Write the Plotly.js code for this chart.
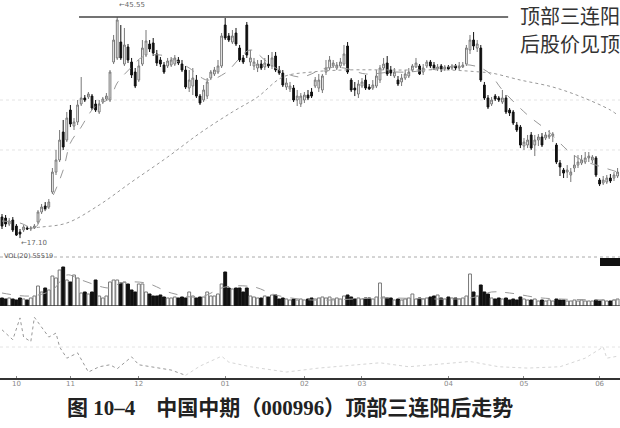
<!DOCTYPE html>
<html><head><meta charset="utf-8">
<script src="https://cdn.plot.ly/plotly-3.0.1.min.js"></script>
<style>html,body{margin:0;padding:0;background:#fff}#c{width:620px;height:428px}</style>
</head><body><div id="c"></div>
<script>
// ---- price data (yuan) ----
const openP=[19.81,19.68,18.91,19.43,18.65,17.88,18.14,18.40,18.27,18.40,
19.17,20.46,21.23,21.10,23.03,25.60,27.15,30.75,29.72,33.58,
31.52,32.04,34.36,35.13,35.26,35.38,34.36,33.33,34.61,35.00,
34.87,39.76,40.28,42.33,39.50,41.69,39.76,38.47,37.44,39.50,
40.66,42.08,42.21,40.79,40.02,39.37,39.25,39.37,39.50,40.02,
39.50,38.73,36.41,36.67,37.44,35.38,34.87,35.38,37.70,38.22,
38.47,39.25,44.52,43.11,42.33,43.49,41.56,40.28,44.52,39.76,
39.25,38.99,39.50,39.12,39.50,39.25,40.53,38.73,38.34,36.54,
36.29,36.41,34.87,34.36,34.87,35.51,35.90,36.67,36.41,36.16,
38.47,38.99,39.25,38.99,39.25,39.50,41.82,37.44,36.41,35.64,
36.67,37.44,36.54,36.41,36.67,37.44,38.99,39.63,38.73,37.96,
37.44,37.19,37.70,37.96,38.73,39.12,39.25,38.47,39.25,39.76,
39.37,38.86,39.25,38.86,39.12,38.99,39.25,38.99,39.12,39.50,
41.31,42.59,41.56,41.56,36.80,35.13,34.36,35.38,35.13,34.61,
35.13,33.58,33.33,31.65,31.39,28.95,29.08,30.37,29.08,29.72,
30.11,29.98,30.11,30.24,29.08,26.76,25.86,25.60,25.22,26.12,
26.50,26.76,26.89,27.41,27.15,27.41,24.57,24.19,24.32,24.83,
24.83,25.09];
const highP=[20.20,20.07,19.68,19.81,18.91,18.27,18.78,18.65,18.65,18.91,
20.71,21.49,21.74,22.13,26.12,28.44,31.01,32.30,33.33,34.23,
32.55,34.87,37.83,35.51,35.90,35.64,34.87,34.87,35.26,35.77,
38.73,43.24,45.55,44.52,44.14,42.08,40.28,38.99,40.02,42.59,
43.88,42.59,42.85,41.31,40.40,39.76,40.28,40.40,40.66,40.40,
40.02,39.25,38.73,38.99,38.09,35.64,36.80,37.70,38.73,39.12,
40.02,43.49,45.42,43.49,43.88,44.14,41.95,40.66,44.91,41.31,
40.28,40.02,40.02,40.28,40.66,41.05,41.05,39.25,38.73,37.70,
37.19,36.80,36.16,35.77,35.90,36.16,36.41,37.83,38.22,38.22,
40.02,40.53,40.02,39.76,40.28,41.95,42.33,37.70,37.19,37.44,
37.70,38.09,36.93,37.44,38.73,39.37,40.28,40.53,39.25,38.99,
37.96,38.22,38.73,38.99,39.50,40.28,39.50,39.50,40.02,40.02,
39.76,39.50,39.50,39.37,39.37,39.50,39.50,39.76,39.76,41.95,
43.24,43.62,42.59,41.95,37.19,35.51,35.26,35.64,35.38,36.16,
35.51,33.84,33.58,32.04,31.65,29.98,30.37,30.75,30.37,30.49,
30.62,30.75,31.01,30.75,29.34,27.15,26.12,26.50,26.12,27.79,
27.79,27.79,28.18,28.18,27.79,27.66,24.83,25.09,25.22,25.35,
25.60,26.12];
const lowP=[18.27,18.53,18.65,17.88,17.37,17.10,17.88,18.14,18.01,18.27,
18.91,20.20,20.58,20.84,22.77,25.22,26.89,28.44,29.46,31.39,
31.01,31.65,34.10,34.61,35.00,33.58,33.33,33.07,34.36,34.74,
34.61,39.50,40.02,40.02,39.25,39.63,37.70,36.41,37.19,39.25,
40.40,41.05,40.53,39.25,39.12,38.22,38.99,39.12,39.25,39.37,
38.47,36.29,35.90,35.51,35.13,34.23,34.61,35.00,37.44,37.96,
38.22,38.99,42.59,42.33,42.08,41.82,39.76,39.50,40.28,39.25,
38.73,38.47,38.73,38.73,38.99,38.86,38.47,38.09,36.54,36.16,
35.90,34.61,34.10,33.97,34.48,34.87,35.13,36.41,35.90,35.77,
38.09,38.73,38.99,38.73,38.99,39.25,38.22,35.90,35.38,35.13,
36.41,36.16,36.16,36.16,36.41,37.06,38.73,37.96,37.96,37.70,
36.67,36.67,37.44,37.70,38.47,38.99,38.09,38.09,38.99,38.99,
38.73,38.60,38.47,38.60,38.73,38.73,38.73,38.73,38.99,39.25,
40.79,41.31,41.05,37.19,34.87,33.71,34.10,34.74,34.61,34.36,
33.07,32.81,31.65,30.75,28.69,28.44,28.69,28.44,27.66,28.95,
28.82,29.72,29.85,29.46,26.63,25.09,24.83,24.83,24.32,25.60,
26.12,26.50,26.63,26.89,26.76,24.96,23.80,23.93,24.06,24.19,
24.45,24.83];
const closeP=[18.65,18.91,19.30,18.14,17.49,17.62,18.53,18.27,18.40,18.65,
20.46,21.10,20.84,21.74,25.60,27.15,29.72,28.82,32.55,31.78,
32.04,34.23,35.13,34.87,35.64,33.84,33.58,34.36,35.00,35.38,
38.47,42.59,45.17,40.28,41.95,40.02,38.09,36.67,39.25,41.56,
42.46,41.43,40.92,39.63,39.50,38.47,39.89,40.02,40.28,39.63,
38.73,36.54,37.44,37.70,35.38,34.48,36.16,37.19,38.47,38.73,
39.25,43.11,42.85,42.59,43.11,42.08,40.02,39.76,40.66,40.28,
39.76,39.50,38.99,39.63,39.25,40.28,38.73,38.34,36.80,37.06,
36.67,34.87,35.38,35.38,35.51,35.13,35.38,37.44,37.44,37.96,
38.99,40.02,39.63,39.37,39.76,40.79,38.47,36.16,36.16,36.93,
37.19,36.41,36.29,36.80,37.96,38.99,39.50,38.22,38.34,38.47,
36.93,37.70,38.22,38.47,39.25,39.63,38.22,38.99,39.76,39.25,
38.99,39.12,38.86,39.12,38.86,39.25,38.99,39.25,39.37,41.56,
42.59,41.82,42.08,37.44,35.13,33.97,34.87,35.00,34.87,35.13,
33.33,33.20,31.91,31.01,29.08,29.46,29.72,28.69,29.72,30.11,
29.08,30.37,30.37,30.49,26.89,26.25,25.47,25.86,25.60,26.50,
26.89,27.15,27.41,27.66,27.53,25.22,24.06,24.57,24.83,24.45,
25.22,25.60];
// ---- volume (thousand lots) ----
const volume=[24,21,24,21,18,24,21,18,24,30,
60,42,54,48,90,84,108,117,78,72,
93,84,39,42,36,42,78,30,24,30,
72,78,78,69,72,66,48,42,66,66,
42,36,30,30,33,27,24,24,27,24,
27,24,42,30,24,27,27,42,30,30,
36,66,102,54,51,54,54,42,54,30,
27,24,24,30,27,33,33,21,24,21,
18,21,18,21,18,21,24,21,24,27,
24,27,21,24,21,30,33,27,21,24,
21,24,24,21,27,69,27,24,24,18,
21,18,21,24,36,21,24,21,24,27,
30,33,24,21,27,24,24,21,24,30,
96,42,30,63,42,36,24,21,24,21,
24,18,21,18,27,21,18,18,21,15,
18,15,18,15,21,18,18,15,15,18,
15,18,15,15,15,18,15,18,15,15,
18,21];
// ---- moving averages ----
const maShortIdx=[0,5,9,11,14,17,19,22,24,26,30,32,36,39,44,48,52,57,62,69,73,77,83,90,95,101,108,113,122,130,135,139,146,152,157,161,165,171];
const maShortVal=[19.30,19.04,18.40,19.81,22.39,25.86,29.34,31.39,32.94,34.10,35.13,37.06,39.12,40.40,40.66,40.02,38.99,37.44,38.34,41.31,40.02,38.73,37.83,38.99,38.99,38.22,38.47,38.47,38.99,39.37,38.47,36.16,32.94,30.75,28.44,27.15,26.50,25.60];
const maLongIdx=[8,11,18,27,36,46,55,64,71,78,86,95,111,124,133,136,144,153,161,169,171];
const maLongVal=[18.40,18.53,19.04,21.36,24.32,27.53,30.62,33.33,35.26,37.83,38.47,38.73,38.73,38.73,38.47,38.34,37.44,36.54,35.26,33.58,32.94];
const volMaIdx=[0,8,14,18,22,30,33,40,47,55,62,70,76,86,105,130,136,141,150,171];
const volMaVal=[39,30,48,93,78,54,69,69,39,27,57,57,33,18,24,24,42,39,24,18];
// ---- lower indicator ----
const indIdx=[0,3,5,6,8,9,13,15,16,18,21,24,27,30,32,36,38,43,47,51];
const indVal=[70,55,88,59,52,89,59,65,44,27,35,6,14,17,11,29,17,12,9,1];
const ind2Idx=[51,55,61,63,69,76,79,88,97,105,113,121,130,138,146,155,162,167,168,171];
const ind2Val=[1,15,30,21,14,9,6,12,16,20,14,18,22,14,12,14,27,44,27,30];
// ---- axis labels ----
const tickIdx=[4,19,38,62,84,100,124,145,166];
const tickText=["10","11","12","01","02","03","04","05","06"];
const highLabel="←45.55", lowLabel="←17.10";
const peakPrice=45.55;

const idx=openP.map((_,i)=>i);
const up=closeP.map((c,i)=>c>=openP[i]);

const traces=[
 {type:'candlestick',x:idx,open:openP,high:highP,low:lowP,close:closeP,xaxis:'x',yaxis:'y',
  increasing:{line:{color:'#777',width:1},fillcolor:'#ffffff'},
  decreasing:{line:{color:'#111',width:1},fillcolor:'#111'},whiskerwidth:0,showlegend:false,hoverinfo:'skip'},
 {type:'scatter',mode:'lines',x:maShortIdx,y:maShortVal,yaxis:'y',line:{color:'#999',width:1,dash:'dash',shape:'spline'},hoverinfo:'skip'},
 {type:'scatter',mode:'lines',x:maLongIdx,y:maLongVal,yaxis:'y',line:{color:'#999',width:1,dash:'dot',shape:'spline'},hoverinfo:'skip'},
 {type:'bar',x:idx,y:volume,yaxis:'y2',width:0.8,
  marker:{color:up.map(u=>u?'#ffffff':'#111'),line:{color:up.map(u=>u?'#777':'#111'),width:1}},hoverinfo:'skip'},
 {type:'scatter',mode:'lines',x:volMaIdx,y:volMaVal,yaxis:'y2',line:{color:'#999',width:1,dash:'dash',shape:'spline'},hoverinfo:'skip'},
 {type:'scatter',mode:'lines',x:indIdx,y:indVal,yaxis:'y3',line:{color:'#999',width:1,dash:'dot'},hoverinfo:'skip'},
 {type:'scatter',mode:'lines',x:ind2Idx,y:ind2Val,yaxis:'y3',line:{color:'#d6d6d6',width:1,dash:'dot'},hoverinfo:'skip'}
];

const layout={
 width:620,height:428,margin:{l:0,r:0,t:0,b:50},paper_bgcolor:'#fff',plot_bgcolor:'#fff',
 showlegend:false,hovermode:false,
 xaxis:{range:[-0.556,171.67],anchor:'y3',rangeslider:{visible:false},showgrid:false,zeroline:false,
  showline:true,linecolor:'#333',linewidth:1.5,ticks:'inside',ticklen:2,tickcolor:'#888',ticklabelstandoff:-2,
  tickvals:tickIdx,ticktext:tickText,tickfont:{family:'DejaVu Sans',size:7,color:'#888'}},
 yaxis:{domain:[0.3333,1],range:[15.31,47.74],visible:false,showgrid:false},
 yaxis2:{domain:[0.1905,0.3175],range:[0,144],visible:false,showgrid:false},
 yaxis3:{domain:[0,0.1799],range:[-3.03,100],visible:false,showgrid:false},
 shapes:[
  {type:'line',xref:'x',yref:'y',x0:21.4,x1:140.6,y0:peakPrice,y1:peakPrice,line:{color:'#444',width:1.5}},
  {type:'line',xref:'paper',yref:'y',x0:0,x1:1,y0:34.87,y1:34.87,line:{color:'#e4e4e4',width:1,dash:'dot'},layer:'below'},
  {type:'line',xref:'paper',yref:'y',x0:0,x1:1,y0:28.44,y1:28.44,line:{color:'#e4e4e4',width:1,dash:'dot'},layer:'below'},
  {type:'line',xref:'paper',yref:'paper',x0:0,x1:1,y0:0.3201,y1:0.3201,line:{color:'#aaa',width:1,dash:'dot'}},
  {type:'line',xref:'paper',yref:'y2',x0:0,x1:1,y0:0,y1:0,line:{color:'#222',width:1.2}},
  {type:'line',xref:'paper',yref:'y3',x0:0,x1:1,y0:43.9,y1:43.9,line:{color:'#e4e4e4',width:1,dash:'dot'},layer:'below'},
  {type:'rect',xref:'paper',yref:'paper',x0:0.9677,x1:1,y0:0.2963,y1:0.3175,fillcolor:'#111',line:{width:0}}
 ],
 annotations:[
  {xref:'x',yref:'y',x:32,y:47.1,text:highLabel,showarrow:false,xanchor:'left',font:{family:'DejaVu Sans',size:7,color:'#666'}},
  {xref:'x',yref:'y',x:4.6,y:16.47,text:lowLabel,showarrow:false,xanchor:'left',font:{family:'DejaVu Sans',size:7,color:'#666'}},
  {xref:'paper',yref:'paper',x:0.004,y:0.3069,text:'VOL(20) 55519',showarrow:false,xanchor:'left',font:{family:'DejaVu Sans',size:6.5,color:'#555'}},
  {xref:'paper',yref:'paper',x:0.836,y:0.9577,yanchor:'middle',text:'顶部三连阳',showarrow:false,xanchor:'left',font:{family:'Noto Sans CJK SC',size:20,color:'#333'}},
  {xref:'paper',yref:'paper',x:0.836,y:0.8862,yanchor:'middle',text:'后股价见顶',showarrow:false,xanchor:'left',font:{family:'Noto Sans CJK SC',size:20,color:'#333'}},
  {xref:'paper',yref:'paper',x:0.468,y:-0.0794,yanchor:'middle',text:'<b>图 10–4\u00a0\u00a0\u00a0\u00a0中国中期（000996）顶部三连阳后走势</b>',showarrow:false,xanchor:'center',font:{family:'Liberation Serif, Noto Sans CJK SC',size:21,color:'#222'}}
 ]
};
Plotly.newPlot('c',traces,layout,{staticPlot:true,displayModeBar:false});
</script></body></html>
